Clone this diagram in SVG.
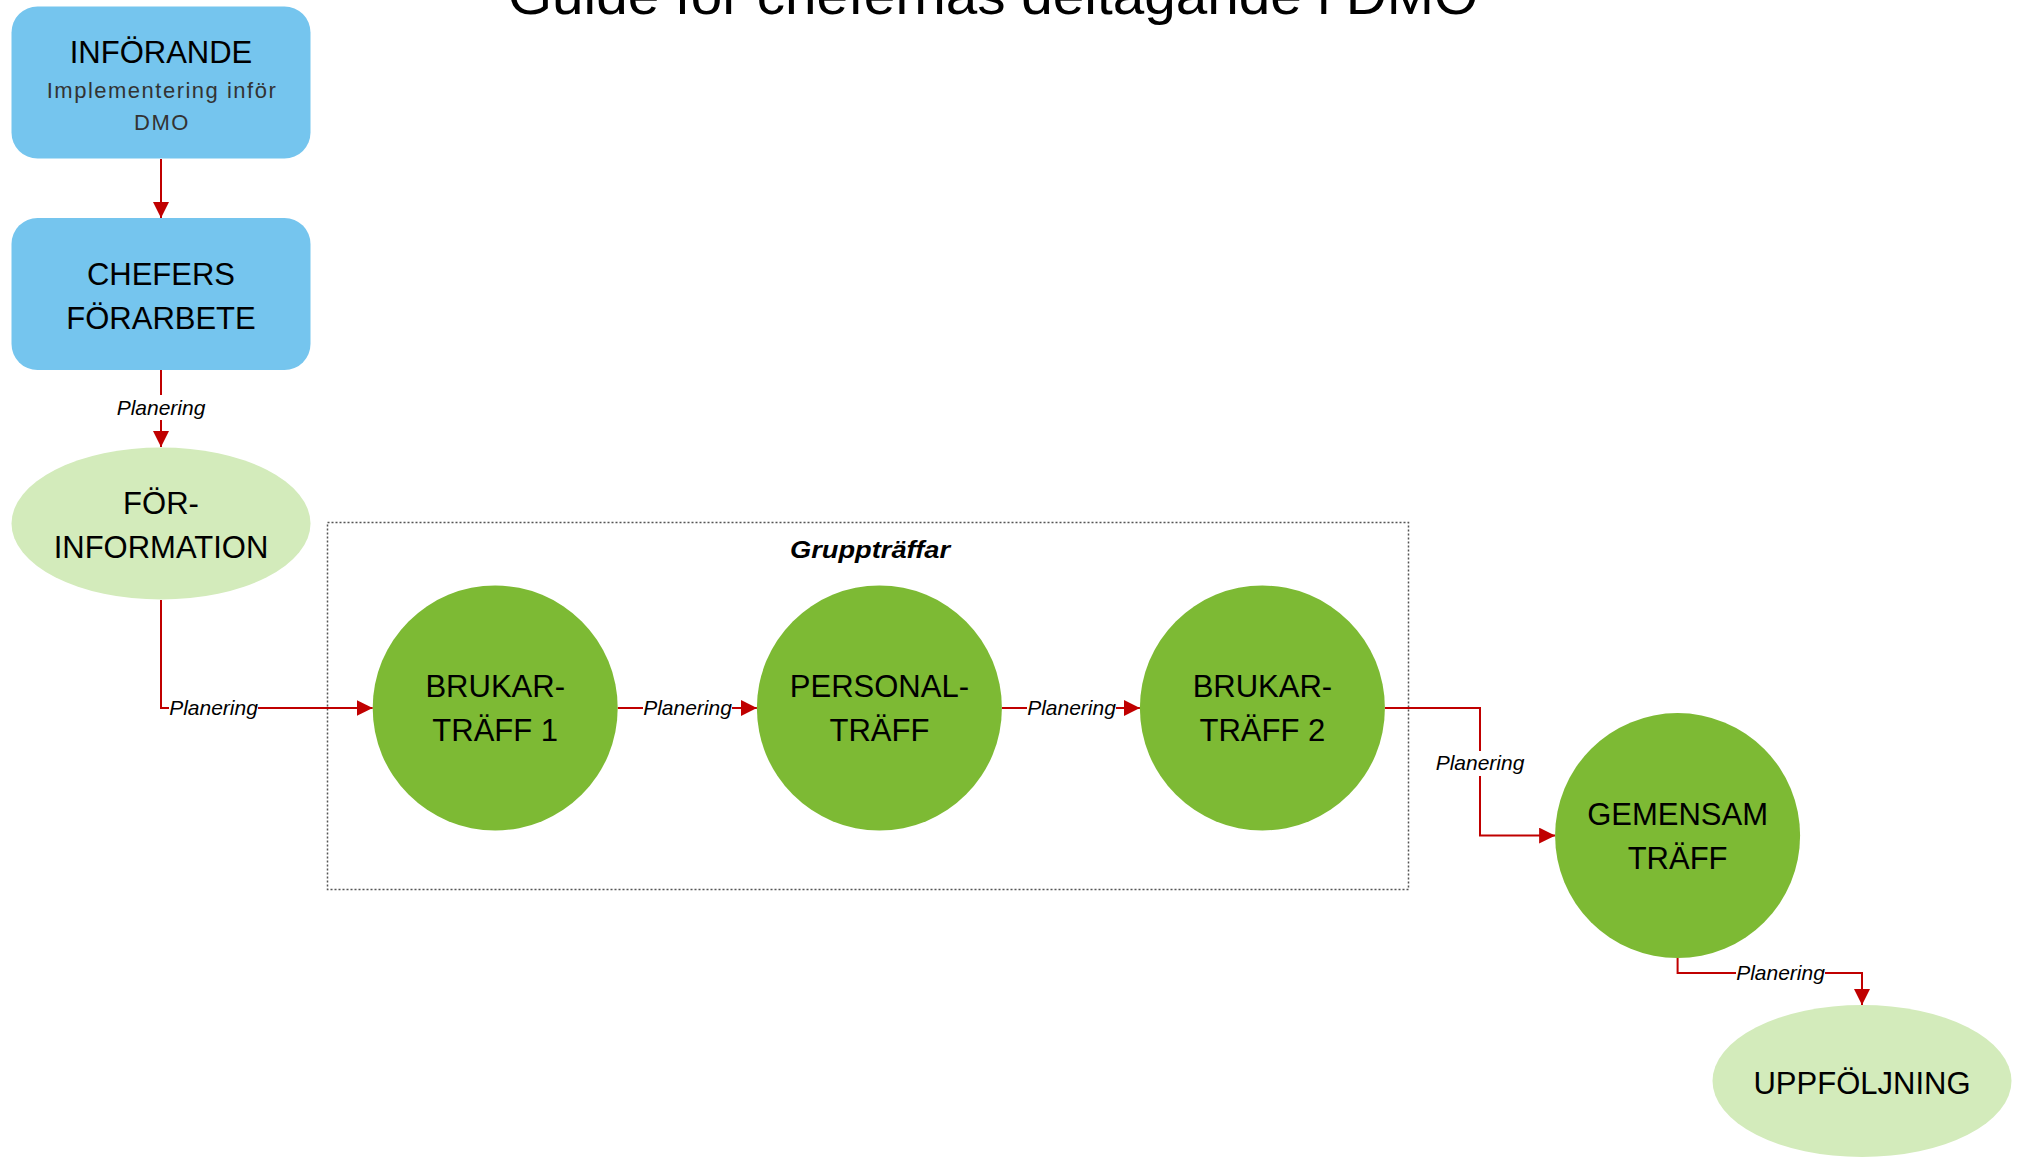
<svg xmlns="http://www.w3.org/2000/svg" width="2022" height="1157" viewBox="0 0 2022 1157">
<style>
.lbl{font-family:"Liberation Sans",Arial,sans-serif;font-size:31px;fill:#000;text-anchor:middle}
.sub{font-family:"Liberation Sans",Arial,sans-serif;font-size:22px;fill:#333;text-anchor:middle;letter-spacing:1.5px}
.plan{font-family:"Liberation Sans",Arial,sans-serif;font-size:21px;font-style:italic;fill:#000;text-anchor:middle}
.conn{fill:none;stroke:#C00000;stroke-width:2}
.blue{fill:#75C5EE}
.green{fill:#7DBA34}
.lgreen{fill:#D3EBBB}
.bg{fill:#fff}
</style>
<defs>
<marker id="arr" markerUnits="userSpaceOnUse" markerWidth="16" markerHeight="16" refX="16" refY="8" orient="auto">
<path d="M0,0 L16,8 L0,16 z" fill="#C00000"/>
</marker>
</defs>
<rect width="2022" height="1157" fill="#fff"/>
<text x="993" y="14" font-family="Liberation Sans,Arial,sans-serif" font-size="54" text-anchor="middle" textLength="970" lengthAdjust="spacingAndGlyphs">Guide för chefernas deltagande i DMO</text>

<g id="group-gruppträffar">
<rect x="327.5" y="522.5" width="1081" height="367" fill="none" stroke="#555" stroke-width="1.5" stroke-dasharray="2,2"/>
<text x="870" y="558" font-family="Liberation Sans,Arial,sans-serif" font-size="24" font-weight="bold" font-style="italic" text-anchor="middle" textLength="160" lengthAdjust="spacingAndGlyphs">Gruppträffar</text>
</g>

<g id="connectors">
<path class="conn" d="M161,159 V218" marker-end="url(#arr)"/>
<path class="conn" d="M161,370 V447" marker-end="url(#arr)"/>
<rect class="bg" x="116" y="395" width="90" height="25"/>
<text class="plan" x="161" y="415">Planering</text>
<path class="conn" d="M161,600 V708 H372.7" marker-end="url(#arr)"/>
<rect class="bg" x="169" y="696" width="89" height="25"/>
<text class="plan" x="213.5" y="715">Planering</text>
<path class="conn" d="M617.7,708 H756.9" marker-end="url(#arr)"/>
<rect class="bg" x="643" y="696" width="89" height="25"/>
<text class="plan" x="687.5" y="715">Planering</text>
<path class="conn" d="M1001.9,708 H1139.9" marker-end="url(#arr)"/>
<rect class="bg" x="1027" y="696" width="89" height="25"/>
<text class="plan" x="1071.5" y="715">Planering</text>
<path class="conn" d="M1384.9,708 H1480 V835.6 H1555.1" marker-end="url(#arr)"/>
<rect class="bg" x="1435.5" y="751" width="89" height="25"/>
<text class="plan" x="1480" y="770">Planering</text>
<path class="conn" d="M1677.6,958 V973 H1862 V1005" marker-end="url(#arr)"/>
<rect class="bg" x="1736" y="961" width="89" height="25"/>
<text class="plan" x="1780.5" y="980">Planering</text>
</g>

<g id="node-inforande">
<rect class="blue" x="11.5" y="6.5" width="299" height="152" rx="26" ry="26"/>
<text class="lbl" x="161" y="63">INFÖRANDE</text>
<text class="sub" x="162" y="98">Implementering inför</text>
<text class="sub" x="162" y="130">DMO</text>
</g>

<g id="node-chefers-forarbete">
<rect class="blue" x="11.5" y="218" width="299" height="152" rx="26" ry="26"/>
<text class="lbl" x="161" y="285">CHEFERS</text>
<text class="lbl" x="161" y="329">FÖRARBETE</text>
</g>

<g id="node-forinformation">
<ellipse class="lgreen" cx="161" cy="523.5" rx="149.5" ry="76"/>
<text class="lbl" x="161" y="514">FÖR-</text>
<text class="lbl" x="161" y="558">INFORMATION</text>
</g>

<g id="node-brukartraff1">
<circle class="green" cx="495.2" cy="708" r="122.5"/>
<text class="lbl" x="495.2" y="697">BRUKAR-</text>
<text class="lbl" x="495.2" y="741">TRÄFF 1</text>
</g>

<g id="node-personaltraff">
<circle class="green" cx="879.4" cy="708" r="122.5"/>
<text class="lbl" x="879.4" y="697">PERSONAL-</text>
<text class="lbl" x="879.4" y="741">TRÄFF</text>
</g>

<g id="node-brukartraff2">
<circle class="green" cx="1262.4" cy="708" r="122.5"/>
<text class="lbl" x="1262.4" y="697">BRUKAR-</text>
<text class="lbl" x="1262.4" y="741">TRÄFF 2</text>
</g>

<g id="node-gemensam-traff">
<circle class="green" cx="1677.6" cy="835.6" r="122.5"/>
<text class="lbl" x="1677.6" y="825">GEMENSAM</text>
<text class="lbl" x="1677.6" y="869">TRÄFF</text>
</g>

<g id="node-uppfoljning">
<ellipse class="lgreen" cx="1862" cy="1081" rx="149.5" ry="76"/>
<text class="lbl" x="1862" y="1094">UPPFÖLJNING</text>
</g>
</svg>
